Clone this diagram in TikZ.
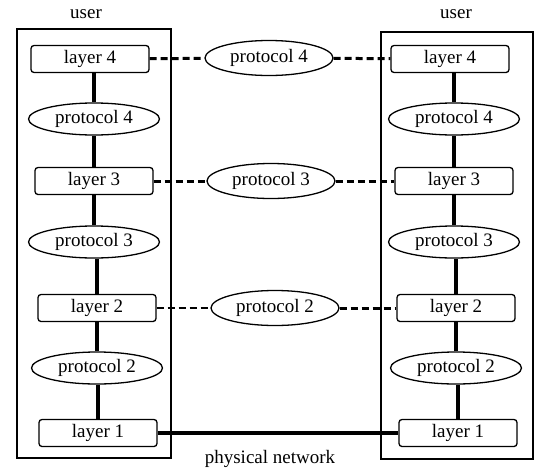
\documentclass[tikz,border=0pt]{standalone}
\usepackage{fontspec}
\setmainfont{Liberation Serif}
\usetikzlibrary{shapes.geometric}

\begin{document}
\begin{tikzpicture}[x=1pt, y=-1pt,
		every node/.style={font=\fontsize{19}{22}\selectfont},
		layer/.style={draw, line width=1.3pt, rounded corners=3pt, minimum width=118pt, minimum height=27pt, inner sep=0pt},
		proto/.style={draw, ellipse, line width=1.3pt, minimum width=131pt, minimum height=32pt, inner sep=0pt},
		stack/.style={line width=4.5pt},
		peer/.style={line width=3pt, dash pattern=on 7pt off 4pt}]
		
		\useasboundingbox (0, 0) rectangle (550, 472);
		
		% hosts
		\draw [line width=1.5pt] (17, 29) rectangle (171, 458);
		\draw [line width=1.5pt] (381, 32) rectangle (533, 459);
		\node (userl) at (86, 14) {user};
		\node (userr) at (456, 14) {user};
		
		% left stack
		\node [layer] (l4) at (90, 59) {layer 4};
		\node [proto] (lp4) at (94, 119) {protocol 4};
		\node [layer] (l3) at (94, 181) {layer 3};
		\node [proto] (lp3) at (94, 242) {protocol 3};
		\node [layer] (l2) at (97, 308) {layer 2};
		\node [proto] (lp2) at (97, 368) {protocol 2};
		\node [layer] (l1) at (98, 433) {layer 1};
		
		% right stack
		\node [layer] (r4) at (450, 59) {layer 4};
		\node [proto] (rp4) at (454, 119) {protocol 4};
		\node [layer] (r3) at (454, 181) {layer 3};
		\node [proto] (rp3) at (454, 242) {protocol 3};
		\node [layer] (r2) at (456, 308) {layer 2};
		\node [proto] (rp2) at (456, 368) {protocol 2};
		\node [layer] (r1) at (458, 433) {layer 1};
		
		% peer protocols
		\node [proto, minimum width=128pt, minimum height=35pt] (p4) at (269, 58) {protocol 4};
		\node [proto, minimum width=128pt, minimum height=35pt] (p3) at (271, 181) {protocol 3};
		\node [proto, minimum width=128pt, minimum height=35pt] (p2) at (275, 308) {protocol 2};
		\node (phys) at (270, 459) {physical network};
		
		\draw [stack] (lp4.north) -- (lp4.north |- l4.south);
		\draw [stack] (l3.north) -- (l3.north |- lp4.south);
		\draw [stack] (lp3.north) -- (lp3.north |- l3.south);
		\draw [stack] (l2.north) -- (l2.north |- lp3.south);
		\draw [stack] (lp2.north) -- (lp2.north |- l2.south);
		\draw [stack] (l1.north) -- (l1.north |- lp2.south);
		
		\draw [stack] (rp4.north) -- (rp4.north |- r4.south);
		\draw [stack] (r3.north) -- (r3.north |- rp4.south);
		\draw [stack] (rp3.north) -- (rp3.north |- r3.south);
		\draw [stack] (r2.north) -- (r2.north |- rp3.south);
		\draw [stack] (rp2.north) -- (rp2.north |- r2.south);
		\draw [stack] (r1.north) -- (r1.north |- rp2.south);
		
		\draw [peer] (l4) -- (p4) -- (r4);
		\draw [peer] (l3) -- (p3) -- (r3);
		\draw [peer, line width=1.8pt] (l2) -- (p2);
		\draw [peer] (p2) -- (r2);
		\draw [line width=4pt] (l1) -- (r1);
		
		\end{tikzpicture}
\end{document}
